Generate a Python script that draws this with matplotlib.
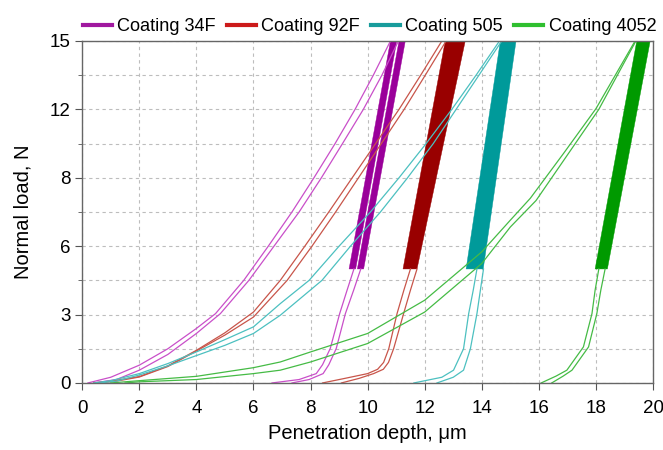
import matplotlib
matplotlib.use('Agg')
from matplotlib import pyplot as plt
from matplotlib.ticker import MultipleLocator

plt.rcParams['font.family'] = ['Liberation Sans', 'DejaVu Sans']

# ---- data (depth in um, load in N) ----
# Coating 34F (two tests)
f34_load_a_h = [0.2, 1.0, 2.0, 3.0, 4.0, 4.67, 5.66, 6.52, 7.35, 8.12, 8.86, 9.56, 10.2, 10.8]
f34_load_a_p = [0, 0.25, 0.78, 1.5, 2.39, 3.04, 4.5, 6.0, 7.5, 9.0, 10.5, 12.0, 13.5, 15]
f34_load_b_h = [0.4, 1.2, 2.0, 3.0, 4.0, 4.84, 5.84, 6.72, 7.6, 8.38, 9.12, 9.85, 10.5, 11.08]
f34_load_b_p = [0, 0.15, 0.56, 1.25, 2.17, 3.04, 4.5, 6.0, 7.5, 9.0, 10.5, 12.0, 13.5, 15]
f34_unl_a_h = [9.52, 9.28, 9.02, 8.69, 8.42, 8.2, 7.6, 6.65]
f34_unl_b_h = [9.76, 9.51, 9.22, 8.9, 8.64, 8.44, 7.95, 7.35]
f34_unl_p = [5, 4.07, 3.04, 1.51, 0.8, 0.41, 0.15, 0]
f34_band1_h = [9.35, 9.58, 11.02, 10.8]
f34_band2_h = [9.64, 9.86, 11.32, 11.1]

# Coating 92F
f92_load_a_h = [0.4, 1.0, 2.0, 3.0, 4.0, 5.0, 6.0, 6.94, 7.8, 8.64, 9.46, 10.28, 11.1, 11.86, 12.6]
f92_load_a_p = [0, 0.08, 0.28, 0.75, 1.43, 2.2, 3.11, 4.5, 6.0, 7.5, 9.0, 10.5, 12.0, 13.5, 15]
f92_load_b_h = [0.6, 1.2, 2.0, 3.0, 4.0, 5.0, 6.0, 7.18, 8.05, 8.88, 9.68, 10.48, 11.28, 12.02, 12.75]
f92_load_b_p = [0, 0.08, 0.26, 0.72, 1.4, 2.1, 2.89, 4.5, 6.0, 7.5, 9.0, 10.5, 12.0, 13.5, 15]
f92_unl_a_h = [11.5, 11.27, 11.03, 10.74, 10.56, 10.35, 10.0, 9.2, 8.42]
f92_unl_b_h = [11.73, 11.5, 11.26, 10.91, 10.73, 10.55, 10.21, 9.7, 9.08]
f92_unl_p = [5, 4.07, 3.04, 1.5, 0.9, 0.6, 0.41, 0.2, 0]
f92_band_h = [11.24, 11.73, 13.42, 12.72]

# Coating 505
c505_load_a_h = [0.4, 1.0, 2.0, 3.0, 4.0, 5.0, 6.0, 6.94, 7.95, 9.0, 10.1, 11.1, 12.05, 12.95, 13.8, 14.62]
c505_load_a_p = [0, 0.1, 0.41, 0.85, 1.36, 1.9, 2.46, 3.48, 4.5, 6.0, 7.5, 9.0, 10.5, 12.0, 13.5, 15]
c505_load_b_h = [0.6, 1.2, 2.0, 3.0, 4.0, 5.0, 6.0, 6.94, 8.4, 9.4, 10.45, 11.4, 12.3, 13.1, 13.9, 14.7]
c505_load_b_p = [0, 0.08, 0.35, 0.75, 1.2, 1.65, 2.17, 2.97, 4.5, 6.0, 7.5, 9.0, 10.5, 12.0, 13.5, 15]
c505_unl_a_h = [13.83, 13.7, 13.54, 13.36, 13.01, 12.6, 11.62]
c505_unl_b_h = [14.06, 13.95, 13.83, 13.6, 13.36, 13.0, 12.43]
c505_unl_p = [5, 4.07, 3.04, 1.5, 0.56, 0.25, 0]
c505_band_h = [13.45, 14.05, 15.2, 14.65]

# Coating 4052
c4052_load_a_h = [1.0, 2.0, 4.0, 6.0, 6.94, 8.0, 10.0, 12.0, 14.0, 15.0, 15.7, 16.86, 18.0, 19.37]
c4052_load_a_p = [0, 0.1, 0.29, 0.67, 0.92, 1.36, 2.17, 3.63, 5.75, 7.14, 8.1, 10.06, 12.03, 15]
c4052_load_b_h = [1.5, 2.0, 4.0, 6.0, 6.94, 8.0, 10.0, 12.0, 14.0, 15.0, 15.9, 17.0, 18.1, 19.4]
c4052_load_b_p = [0, 0.05, 0.15, 0.41, 0.56, 0.92, 1.73, 3.11, 5.24, 6.84, 8.0, 10.0, 12.0, 15]
c4052_unl_a_h = [18.1, 17.97, 17.86, 17.56, 16.98, 16.6, 16.08]
c4052_unl_b_h = [18.32, 18.17, 18.03, 17.74, 17.16, 16.85, 16.45]
c4052_unl_p = [5, 4.07, 3.04, 1.58, 0.56, 0.3, 0]
c4052_band_h = [17.97, 18.4, 19.9, 19.43]

band_p = [5, 5, 15, 15]

names = ['Coating 34F', 'Coating 92F', 'Coating 505', 'Coating 4052']
legend_colors = ['#a0189f', '#cc1a1a', '#189c9c', '#2fbf2f']
line_colors = ['#c94fc9', '#c8554a', '#4cc0c0', '#45bb45']
band_colors = ['#9a009a', '#990000', '#009a9a', '#009a00']

fig, ax = plt.subplots(figsize=(6.63, 4.5), dpi=100)
fig.subplots_adjust(left=0.124, right=0.985, top=0.909, bottom=0.149)

lw = 0.9

# 34F
c = line_colors[0]
ax.plot(f34_load_a_h, f34_load_a_p, color=c, lw=lw)
ax.plot(f34_load_b_h, f34_load_b_p, color=c, lw=lw)
ax.plot(f34_unl_a_h, f34_unl_p, color=c, lw=lw)
ax.plot(f34_unl_b_h, f34_unl_p, color=c, lw=lw)
ax.fill(f34_band1_h, band_p, color=band_colors[0], lw=0.3)
ax.fill(f34_band2_h, band_p, color=band_colors[0], lw=0.3)

# 92F
c = line_colors[1]
ax.plot(f92_load_a_h, f92_load_a_p, color=c, lw=lw)
ax.plot(f92_load_b_h, f92_load_b_p, color=c, lw=lw)
ax.plot(f92_unl_a_h, f92_unl_p, color=c, lw=lw)
ax.plot(f92_unl_b_h, f92_unl_p, color=c, lw=lw)
ax.fill(f92_band_h, band_p, color=band_colors[1], lw=0.3)

# 505
c = line_colors[2]
ax.plot(c505_load_a_h, c505_load_a_p, color=c, lw=lw)
ax.plot(c505_load_b_h, c505_load_b_p, color=c, lw=lw)
ax.plot(c505_unl_a_h, c505_unl_p, color=c, lw=lw)
ax.plot(c505_unl_b_h, c505_unl_p, color=c, lw=lw)
ax.fill(c505_band_h, band_p, color=band_colors[2], lw=0.3)

# 4052
c = line_colors[3]
ax.plot(c4052_load_a_h, c4052_load_a_p, color=c, lw=lw)
ax.plot(c4052_load_b_h, c4052_load_b_p, color=c, lw=lw)
ax.plot(c4052_unl_a_h, c4052_unl_p, color=c, lw=lw)
ax.plot(c4052_unl_b_h, c4052_unl_p, color=c, lw=lw)
ax.fill(c4052_band_h, band_p, color=band_colors[3], lw=0.3)

# legend handles
for name, col in zip(names, legend_colors):
    ax.plot([], [], color=col, lw=3, label=name)
ax.legend(loc='lower center', bbox_to_anchor=(0.503, 1.0), ncol=4, frameon=False,
          fontsize=13.1, handlelength=1.6, handletextpad=0.3, columnspacing=0.6,
          borderaxespad=0.1, borderpad=0.2)

ax.set_xlim(0, 20)
ax.set_ylim(0, 15)
ax.set_xticks(range(0, 21, 2))
ax.set_yticks([0, 3, 6, 9, 12, 15])
ax.set_yticklabels(['0', '3', '6', '8', '12', '15'])  # label as printed on the original
ax.yaxis.set_minor_locator(MultipleLocator(1.5))
ax.tick_params(axis='both', which='major', labelsize=13.5, direction='out', length=5,
               color='#555555')
ax.tick_params(axis='x', which='major', pad=7)
ax.tick_params(axis='y', which='minor', direction='out', length=3, color='#555555')

ax.grid(True, which='both', axis='y', color='#bdbdbd', linestyle=(0, (3, 3)), lw=0.8)
ax.grid(True, which='major', axis='x', color='#bdbdbd', linestyle=(0, (3, 3)), lw=0.8)
ax.set_axisbelow(True)

for side in ['left', 'bottom', 'top', 'right']:
    ax.spines[side].set_color('#666666')
    ax.spines[side].set_linewidth(1.0)

ax.set_xlabel('Penetration depth, \u03bcm', fontsize=14.5, labelpad=5)
ax.set_ylabel('Normal load, N', fontsize=14.5, labelpad=12)

fig.savefig('out.png', dpi=100)
